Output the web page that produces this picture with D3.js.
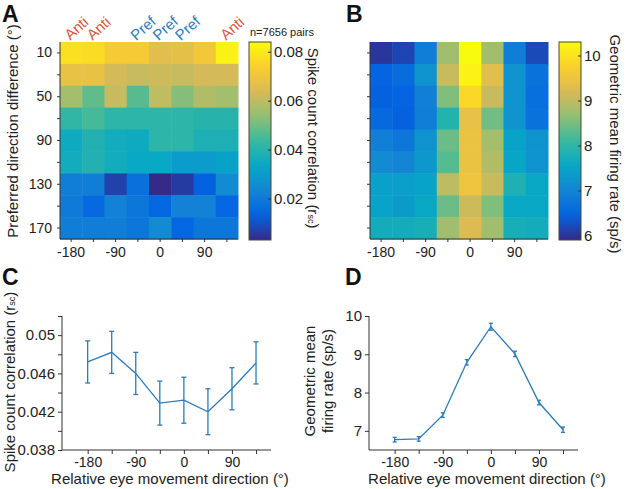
<!DOCTYPE html>
<html><head><meta charset="utf-8">
<script src="https://cdn.jsdelivr.net/npm/d3@7"></script>
<style>
body{margin:0;background:#fff;}
svg{display:block;font-family:"Liberation Sans",Arial,Helvetica,sans-serif;}
</style></head>
<body>
<svg id="chart" width="627" height="489"></svg>
<script>
// ---------- data ----------
const directions = [-180,-135,-90,-45,0,45,90,135];
const dirLabels = [-180,-90,0,90];
const prefDiffs = [10,30,50,70,90,110,130,150,170];
const prefLabels = [10,50,90,130,170];
const topLabels = ["Anti","Anti","","Pref","Pref","Pref","","Anti"];

// Panel A: spike count correlation (rows = preferred direction difference)
const rscGrid = [
  [0.078,0.077,0.072,0.072,0.066,0.067,0.071,0.082],
  [0.068,0.068,0.063,0.061,0.062,0.061,0.063,0.063],
  [0.056,0.048,0.061,0.047,0.060,0.052,0.058,0.056],
  [0.042,0.045,0.041,0.041,0.041,0.041,0.040,0.040],
  [0.035,0.039,0.036,0.035,0.041,0.041,0.038,0.038],
  [0.036,0.039,0.036,0.034,0.034,0.030,0.030,0.032],
  [0.021,0.021,0.007,0.017,0.003,0.006,0.013,0.025],
  [0.020,0.015,0.022,0.019,0.014,0.022,0.022,0.014],
  [0.021,0.021,0.021,0.019,0.025,0.014,0.019,0.019]
];
// Panel B: geometric mean firing rate (sp/s)
const rateGrid = [
  [6.03,6.16,6.87,8.76,10.30,8.76,6.87,6.20],
  [6.47,6.60,7.22,9.07,10.20,9.33,7.22,6.69],
  [6.43,6.47,6.91,8.54,9.86,9.07,7.22,6.65],
  [6.56,6.43,6.87,7.88,9.42,8.45,7.22,6.69],
  [6.91,6.78,7.22,8.41,9.46,8.80,7.48,7.22],
  [7.09,7.00,7.31,8.28,9.46,8.89,7.53,7.22],
  [7.44,7.40,7.48,8.98,9.51,9.07,7.84,7.57],
  [7.48,7.35,7.57,8.41,9.11,8.54,7.57,7.57],
  [7.70,7.70,7.75,8.76,9.24,8.76,7.75,7.70]
];
const rscTicks = [0.02,0.04,0.06,0.08];
const rateTicks = [6,7,8,9,10];

// Panel C
const rscMean = [0.0472,0.0482,0.0460,0.0429,0.0432,0.0420,0.0444,0.0471];
const rscErr  = [0.0022,0.0022,0.0022,0.0023,0.0024,0.0024,0.0022,0.0022];
const rscAxisTicks = [0.038,0.040,0.042,0.044,0.046,0.048,0.050,0.052];
const rscAxisLabels = [0.038,0.042,0.046,0.05];

// Panel D
const rateMean = [6.77,6.79,7.41,8.79,9.72,9.01,7.74,7.03];
const rateErr  = [0.06,0.06,0.06,0.07,0.09,0.07,0.06,0.07];
const rateAxisTicks = [7,8,9,10];

// ---------- parula colormap ----------
const parulaStops = ["#352A87","#0363E1","#1485D4","#06A7C6","#38B99E","#92BF73","#D9BA56","#FCCE2E","#F9FB0E"];
const parula = d3.piecewise(d3.interpolateRgb, parulaStops);

const svg = d3.select("#chart");
const textColor = "#222";
const axisColor = "#333";
const lineBlue = "#2b7bbd";

function styleAxis(g){
  g.selectAll("path.domain").attr("stroke",axisColor).attr("stroke-width",1);
  g.selectAll(".tick line").attr("stroke",axisColor);
  g.selectAll(".tick text").attr("fill",textColor).style("font-size","14px").style("font-family","Liberation Sans, Arial, sans-serif");
}

function heatmap(opts){
  const {x0,x1,y0,y1,grid,domain,showY,cbX,cbTicks,cbFormat} = opts;
  const xb = d3.scaleBand().domain(directions).range([x0,x1]);
  const yb = d3.scaleBand().domain(prefDiffs).range([y0,y1]);
  const color = d3.scaleSequential(parula).domain(domain);
  const g = svg.append("g");
  prefDiffs.forEach((p,i)=>{
    directions.forEach((d,j)=>{
      g.append("rect")
        .attr("x",xb(d)).attr("y",yb(p))
        .attr("width",xb.bandwidth()+0.5).attr("height",yb.bandwidth()+0.5)
        .attr("fill",color(grid[i][j]));
    });
  });
  const xa = svg.append("g").attr("transform",`translate(0,${y1})`)
    .call(d3.axisBottom(xb).tickValues(directions).tickSize(3).tickPadding(5)
      .tickFormat(d=>dirLabels.includes(d)?d:""))
  xa.select("path.domain").attr("d",`M${x0},0H${x1}`);
  styleAxis(xa);
  const ya = svg.append("g").attr("transform",`translate(${x0},0)`)
    .call(d3.axisLeft(yb).tickValues(prefDiffs).tickSize(3).tickPadding(5)
      .tickFormat(d=>showY && prefLabels.includes(d)?d:""));
  ya.select("path.domain").attr("d",`M0,${y0}V${y1}`);
  styleAxis(ya);
  const cbW = 22;
  const cs = d3.scaleLinear().domain(domain).range([y1+1,y0]);
  const gradId = "grad"+x0;
  const grad = svg.append("defs").append("linearGradient").attr("id",gradId)
    .attr("x1",0).attr("y1",1).attr("x2",0).attr("y2",0);
  d3.range(0,1.0001,0.05).forEach(t=>{
    grad.append("stop").attr("offset",t).attr("stop-color",parula(t));
  });
  svg.append("rect").attr("x",cbX).attr("y",y0).attr("width",cbW).attr("height",y1+1-y0)
    .attr("fill",`url(#${gradId})`).attr("stroke","#4a4a30").attr("stroke-width",1);
  const ca = svg.append("g").attr("transform",`translate(${cbX+cbW},0)`)
    .call(d3.axisRight(cs).tickValues(cbTicks).tickSize(-3).tickPadding(4).tickFormat(cbFormat));
  ca.select("path.domain").remove();
  styleAxis(ca);
  ca.selectAll(".tick text").attr("x",3).style("font-size","15px");
  return {xb,yb};
}

const A = heatmap({x0:60,x1:238,y0:42,y1:239,grid:rscGrid,domain:[0.003,0.084],showY:true,cbX:249,cbTicks:rscTicks,cbFormat:d3.format(".2f")});
const B = heatmap({x0:370,x1:548,y0:42,y1:239,grid:rateGrid,domain:[5.9,10.3],showY:false,cbX:559,cbTicks:rateTicks,cbFormat:d3.format("d")});

// Anti / Pref labels
directions.forEach((d,j)=>{
  const lab = topLabels[j];
  if(!lab) return;
  svg.append("text")
    .attr("transform",`translate(${A.xb(d)+A.xb.bandwidth()/2+5},28) rotate(-42)`)
    .attr("text-anchor","middle").attr("dominant-baseline","central")
    .attr("fill", lab==="Anti" ? "#e0553a" : "#2a7cc4")
    .style("font-size","15px").text(lab);
});

svg.append("text").attr("x",250).attr("y",36).attr("fill",textColor)
  .style("font-size","11px").text("n=7656 pairs");

svg.append("text").attr("transform","translate(12,131) rotate(-90)")
  .attr("text-anchor","middle").attr("dominant-baseline","central")
  .attr("fill",textColor).style("font-size","15px").text("Preferred direction difference (°)");

const rscLab = svg.append("text").attr("transform","translate(314,138) rotate(90)")
  .attr("text-anchor","middle").attr("dominant-baseline","central")
  .attr("fill",textColor).style("font-size","15px");
rscLab.append("tspan").text("Spike count correlation (r");
rscLab.append("tspan").attr("dy",3).style("font-size","9px").text("sc");
rscLab.append("tspan").attr("dy",-3).text(")");

svg.append("text").attr("transform","translate(615,144) rotate(90)")
  .attr("text-anchor","middle").attr("dominant-baseline","central")
  .attr("fill",textColor).style("font-size","15px").text("Geometric mean firing rate (sp/s)");

// ---------- line panels ----------
function linePanel(opts){
  const {x0,x1,yTop,yBot,yDomain,mean,err,ticks,labels,fmt,cap} = opts;
  const x = d3.scaleLinear().domain([-228,163]).range([x0,x1]);
  const y = d3.scaleLinear().domain(yDomain).range([yBot,yTop]);
  const xa = svg.append("g").attr("transform",`translate(0,${yBot})`)
    .call(d3.axisBottom(x).tickValues(directions).tickSize(4).tickPadding(3)
      .tickFormat(d=>dirLabels.includes(d)?d:""));
  xa.select("path.domain").attr("d",`M${x0},0H${x1}`);
  styleAxis(xa);
  const ya = svg.append("g").attr("transform",`translate(${x0},0)`)
    .call(d3.axisLeft(y).tickValues(ticks).tickSize(4).tickPadding(3)
      .tickFormat(d=>labels.some(l=>Math.abs(l-d)<1e-9)?fmt(d):""));
  ya.select("path.domain").attr("d",`M0,${yTop}V${yBot}`);
  styleAxis(ya);
  ya.selectAll(".tick text").style("font-size","15px");
  const g = svg.append("g");
  g.append("path").datum(directions)
    .attr("d",d3.line().x(d=>x(d)).y((d,i)=>y(mean[i])))
    .attr("fill","none").attr("stroke",lineBlue).attr("stroke-width",1.3);
  directions.forEach((d,i)=>{
    const cx = x(d), ya1 = y(mean[i]+err[i]), yb1 = y(mean[i]-err[i]);
    g.append("line").attr("x1",cx).attr("x2",cx).attr("y1",ya1).attr("y2",yb1)
      .attr("stroke",lineBlue).attr("stroke-width",1.3);
    [ya1,yb1].forEach(yy=>g.append("line").attr("x1",cx-cap).attr("x2",cx+cap)
      .attr("y1",yy).attr("y2",yy).attr("stroke",lineBlue).attr("stroke-width",1.3));
  });
  return x;
}

linePanel({x0:62,x1:271,yTop:316,yBot:450,yDomain:[0.038,0.052],mean:rscMean,err:rscErr,
  ticks:rscAxisTicks,labels:rscAxisLabels,fmt:d3.format("~g"),cap:2.5});
linePanel({x0:369,x1:578,yTop:316,yBot:450,yDomain:[6.5,10],mean:rateMean,err:rateErr,
  ticks:rateAxisTicks,labels:rateAxisTicks,fmt:d3.format("d"),cap:2});

svg.append("text").attr("x",170).attr("y",484).attr("text-anchor","middle")
  .attr("fill",textColor).style("font-size","15px").text("Relative eye movement direction (°)");
svg.append("text").attr("x",487).attr("y",484).attr("text-anchor","middle")
  .attr("fill",textColor).style("font-size","15px").text("Relative eye movement direction (°)");

const cLab = svg.append("text").attr("transform","translate(9,382) rotate(-90)")
  .attr("text-anchor","middle").attr("dominant-baseline","central")
  .attr("fill",textColor).style("font-size","15px");
cLab.append("tspan").text("Spike count correlation (r");
cLab.append("tspan").attr("dy",3).style("font-size","9px").text("sc");
cLab.append("tspan").attr("dy",-3).text(")");

const dLab = svg.append("text").attr("transform","translate(0,381) rotate(-90)")
  .attr("text-anchor","middle").attr("fill",textColor).style("font-size","15px");
dLab.append("tspan").attr("x",0).attr("y",315).text("Geometric mean");
dLab.append("tspan").attr("x",0).attr("y",333).text("firing rate (sp/s)");

// panel letters
[["A",2,22],["B",346,22],["C",2,285],["D",345,285]].forEach(([t,x,y])=>{
  svg.append("text").attr("x",x).attr("y",y).attr("fill","#111")
    .style("font-size","23px").style("font-weight","bold").text(t);
});
</script>
</body></html>
